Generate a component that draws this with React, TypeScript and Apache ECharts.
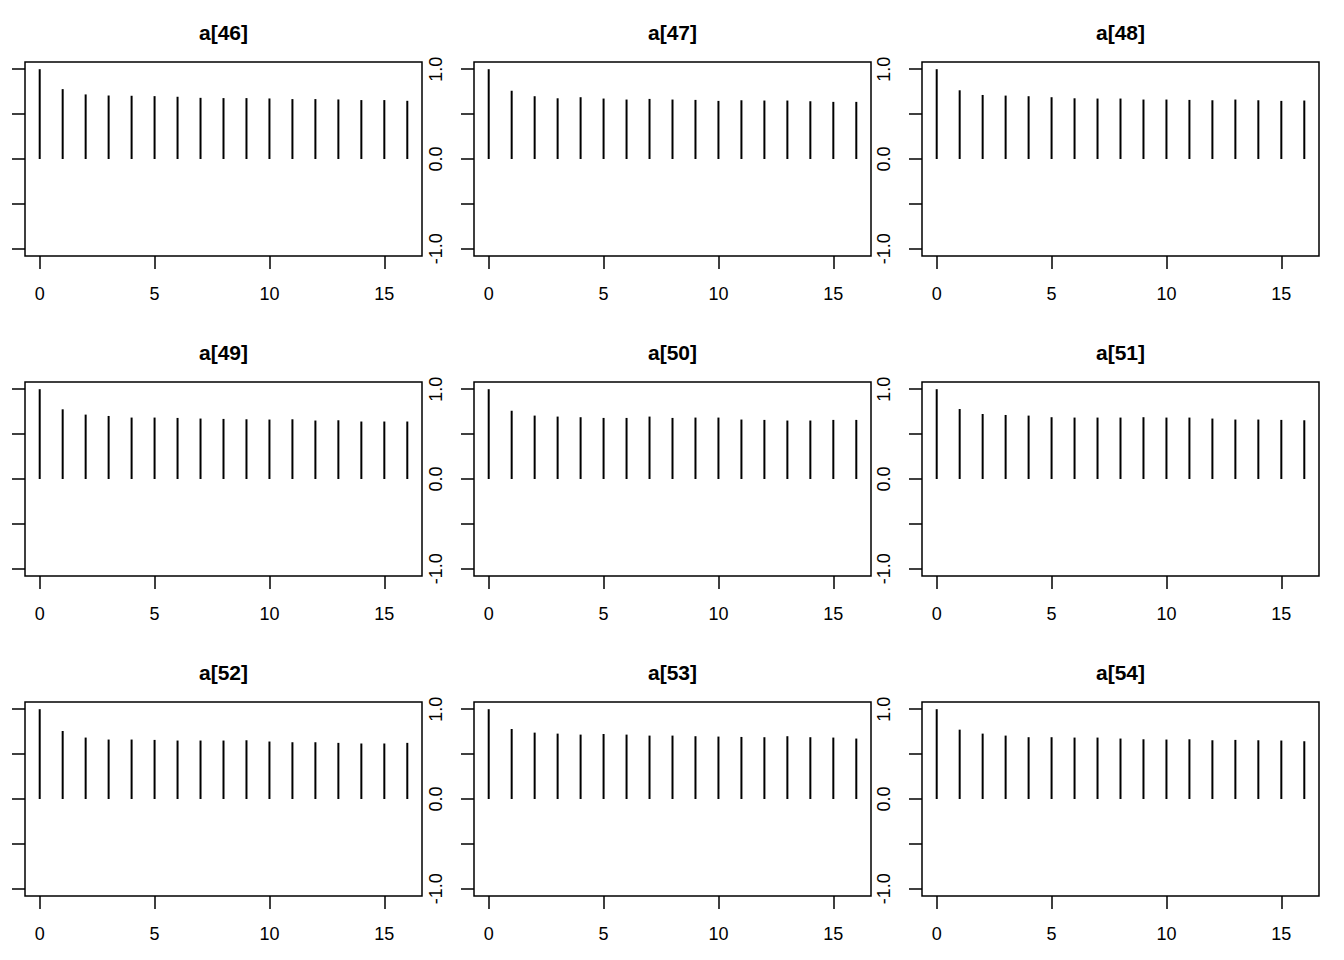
import React, { useEffect, useRef } from "react";
import * as echarts from "echarts";

const lags = [0, 1, 2, 3, 4, 5, 6, 7, 8, 9, 10, 11, 12, 13, 14, 15, 16];
const titles = ["a[46]", "a[47]", "a[48]", "a[49]", "a[50]", "a[51]", "a[52]", "a[53]", "a[54]"];

const acf46 = [1, 0.778, 0.719, 0.707, 0.704, 0.7, 0.693, 0.681, 0.678, 0.678, 0.674, 0.667, 0.667, 0.663, 0.656, 0.656, 0.648];
const acf47 = [1, 0.761, 0.699, 0.676, 0.688, 0.673, 0.662, 0.669, 0.662, 0.658, 0.647, 0.654, 0.651, 0.651, 0.643, 0.636, 0.636];
const acf48 = [1, 0.765, 0.713, 0.706, 0.699, 0.688, 0.676, 0.673, 0.673, 0.662, 0.662, 0.658, 0.654, 0.662, 0.654, 0.647, 0.651];
const acf49 = [1, 0.776, 0.717, 0.702, 0.684, 0.684, 0.68, 0.673, 0.669, 0.665, 0.662, 0.665, 0.651, 0.654, 0.64, 0.64, 0.64];
const acf50 = [1, 0.761, 0.706, 0.695, 0.688, 0.68, 0.68, 0.695, 0.68, 0.684, 0.684, 0.662, 0.658, 0.651, 0.651, 0.658, 0.658];
const acf51 = [1, 0.779, 0.724, 0.713, 0.706, 0.688, 0.684, 0.684, 0.684, 0.688, 0.684, 0.684, 0.673, 0.662, 0.662, 0.658, 0.654];
const acf52 = [1, 0.757, 0.684, 0.662, 0.662, 0.658, 0.651, 0.651, 0.651, 0.654, 0.64, 0.632, 0.632, 0.625, 0.618, 0.618, 0.625];
const acf53 = [1, 0.779, 0.739, 0.728, 0.717, 0.724, 0.717, 0.706, 0.706, 0.699, 0.695, 0.691, 0.688, 0.699, 0.688, 0.684, 0.673];
const acf54 = [1, 0.772, 0.728, 0.706, 0.688, 0.688, 0.684, 0.684, 0.673, 0.665, 0.662, 0.665, 0.654, 0.658, 0.654, 0.651, 0.643];

const panels = [acf46, acf47, acf48, acf49, acf50, acf51, acf52, acf53, acf54];
const xTicks = [0, 5, 10, 15];
const yTicks = [-1, -0.5, 0, 0.5, 1];
const yLabels = [-1, 0, 1];

const FONT = "'Liberation Sans', Arial, Helvetica, sans-serif";

export default function App() {
  const ref = useRef<HTMLDivElement>(null);
  useEffect(() => {
    if (!ref.current) return;
    const chart = echarts.init(ref.current, null, { renderer: "svg" });
    const colLeft = [25, 474, 922];
    const rowTop = [62, 382, 702];
    const W = 397;
    const H = 194;
    const grids: any[] = [];
    const xAxes: any[] = [];
    const yAxes: any[] = [];
    const series: any[] = [];
    const graphics: any[] = [];
    panels.forEach((vals, i) => {
      const r = Math.floor(i / 3);
      const c = i % 3;
      grids.push({
        left: colLeft[c],
        top: rowTop[r],
        width: W,
        height: H,
        containLabel: false,
        outerBoundsMode: "none",
        show: true,
        borderColor: "#000",
        borderWidth: 1.5,
        backgroundColor: "transparent",
      });
      xAxes.push({
        type: "value",
        gridIndex: i,
        min: -0.64,
        max: 16.64,
        axisLine: { show: false, onZero: false },
        splitLine: { show: false },
        axisTick: {
          show: true,
          customValues: xTicks,
          length: 13,
          inside: false,
          lineStyle: { color: "#000", width: 1.5 },
        },
        axisLabel: {
          customValues: xTicks,
          margin: 29,
          color: "#000",
          fontSize: 18,
          fontFamily: FONT,
        },
      });
      yAxes.push({
        type: "value",
        gridIndex: i,
        min: -1.08,
        max: 1.08,
        axisLine: { show: false, onZero: false },
        splitLine: { show: false },
        axisTick: {
          show: true,
          customValues: yTicks,
          length: 13,
          inside: false,
          lineStyle: { color: "#000", width: 1.5 },
        },
        axisLabel: {
          // the leftmost column's labels fall outside the page in the reference
          show: c !== 0,
          customValues: yLabels,
          rotate: 90,
          margin: 29,
          color: "#000",
          fontSize: 18,
          fontFamily: FONT,
          formatter: (v: number) => v.toFixed(1),
        },
      });
      series.push({
        type: "bar",
        xAxisIndex: i,
        yAxisIndex: i,
        barWidth: 2,
        silent: true,
        itemStyle: { color: "#000" },
        data: lags.map((l, j) => [l, vals[j]]),
      });
      graphics.push({
        type: "text",
        x: colLeft[c] + W / 2,
        y: rowTop[r] - 30,
        style: {
          text: titles[i],
          fill: "#000",
          font: `bold 21px ${FONT}`,
          textAlign: "center",
          textVerticalAlign: "middle",
        },
      });
    });
    chart.setOption({
      animation: false,
      backgroundColor: "#fff",
      grid: grids,
      xAxis: xAxes,
      yAxis: yAxes,
      series,
      graphic: graphics,
    });
    return () => chart.dispose();
  }, []);
  return (
    <div
      ref={ref}
      style={{ position: "fixed", left: 0, top: 0, width: 1344, height: 960, background: "#fff" }}
    />
  );
}
